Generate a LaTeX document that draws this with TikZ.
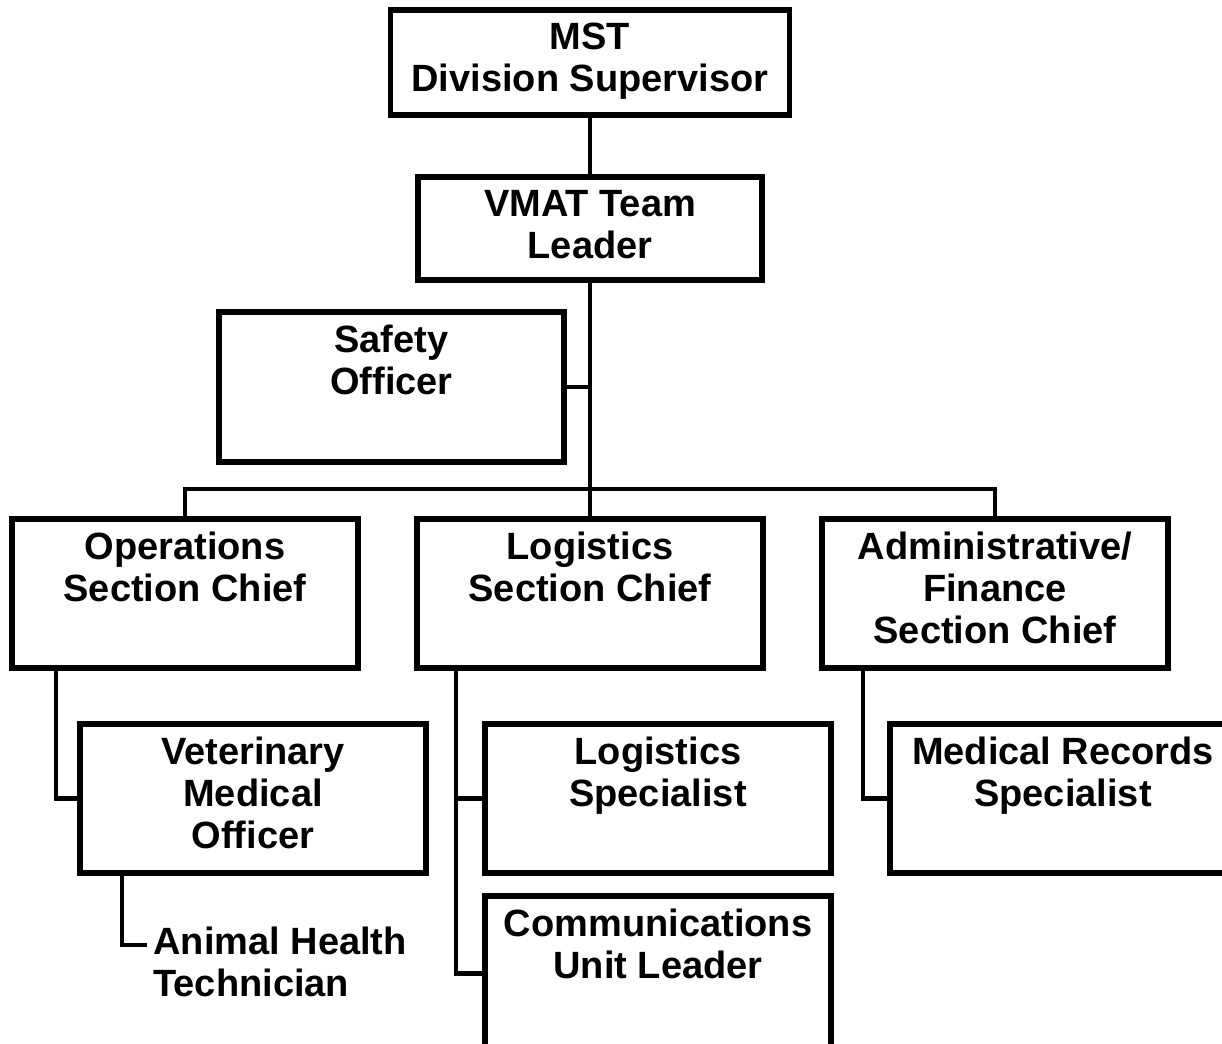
\documentclass[tikz,border=0pt]{standalone}
\usepackage{fontspec}
\setmainfont{Liberation Sans}
\usetikzlibrary{positioning}

\begin{document}
\begin{tikzpicture}[x=0.5pt, y=-0.5pt, node distance=202.5pt,
    box/.style={draw, rectangle, line width=2.9pt, outer sep=0pt, inner sep=0pt,
        minimum width=173pt, minimum height=74.5pt},
    title/.style={anchor=north, yshift=-6.4pt, align=center, inner sep=0pt,
        font=\bfseries\fontsize{19}{21}\selectfont},
    caption/.style={align=left, inner xsep=3pt, inner ysep=0pt,
        font=\bfseries\fontsize{19}{21}\selectfont},
    link/.style={line width=2.3pt}]
    \useasboundingbox (0,0) rectangle (1222,1044);
    \clip (0,0) rectangle (1222,1044);

    % top of the chart
    \node[box, minimum width=199.5pt, minimum height=52.5pt,
        label={[title]north:{MST\\Division Supervisor}}] (mst) at (590,62.5) {};
    \node[box, minimum width=172pt, minimum height=51.5pt,
        label={[title]north:{VMAT Team\\Leader}}] (vmat) at (590,228.5) {};
    \node[box, minimum width=172.5pt, minimum height=75pt,
        label={[title]north:{Safety\\Officer}}] (safety) at (391.5,387) {};

    % section chiefs
    \node[box, label={[title]north:{Operations\\Section Chief}}] (operations) at (185,593.5) {};
    \node[box, right of=operations, label={[title]north:{Logistics\\Section Chief}}] (logistics) {};
    \node[box, right of=logistics, label={[title]north:{Administrative/\\Finance\\Section Chief}}] (admin) {};

    % units below the sections
    \node[box, label={[title]north:{Veterinary\\Medical\\Officer}}] (vet) at (253,798.5) {};
    \node[box, right of=vet, label={[title]north:{Logistics\\Specialist}}] (logspec) {};
    \node[box, right of=logspec, label={[title]north:{Medical Records\\Specialist}}] (medrecords) {};
    \node[box, below of=logspec, node distance=87.5pt, minimum height=77.5pt,
        label={[title]north:{Communications\\Unit Leader}}] (comms) {};
    \node[caption, anchor=north west] (aht) at (147,927) {Animal Health\\Technician};

    \draw[link] (mst) -- (vmat);
    \draw[link] (vmat.south) -- (logistics.north);
    \draw[link] (safety.east) -- (safety.east -| vmat.south);
    \draw[link] (operations.north) |- ([yshift=15pt]logistics.north) -| (admin.north);

    \draw[link] ([xshift=22pt]operations.south west) |- (vet.west);
    \draw[link] ([xshift=21pt]vet.south west) |- ([yshift=-9pt]aht.north west);
    \coordinate (logtrunk) at ([xshift=19.5pt]logistics.south west);
    \draw[link] (logtrunk) |- (comms.west);
    \draw[link] (logspec.west) -- (logspec.west -| logtrunk);
    \draw[link] ([xshift=20.5pt]admin.south west) |- (medrecords.west);
\end{tikzpicture}
\end{document}
